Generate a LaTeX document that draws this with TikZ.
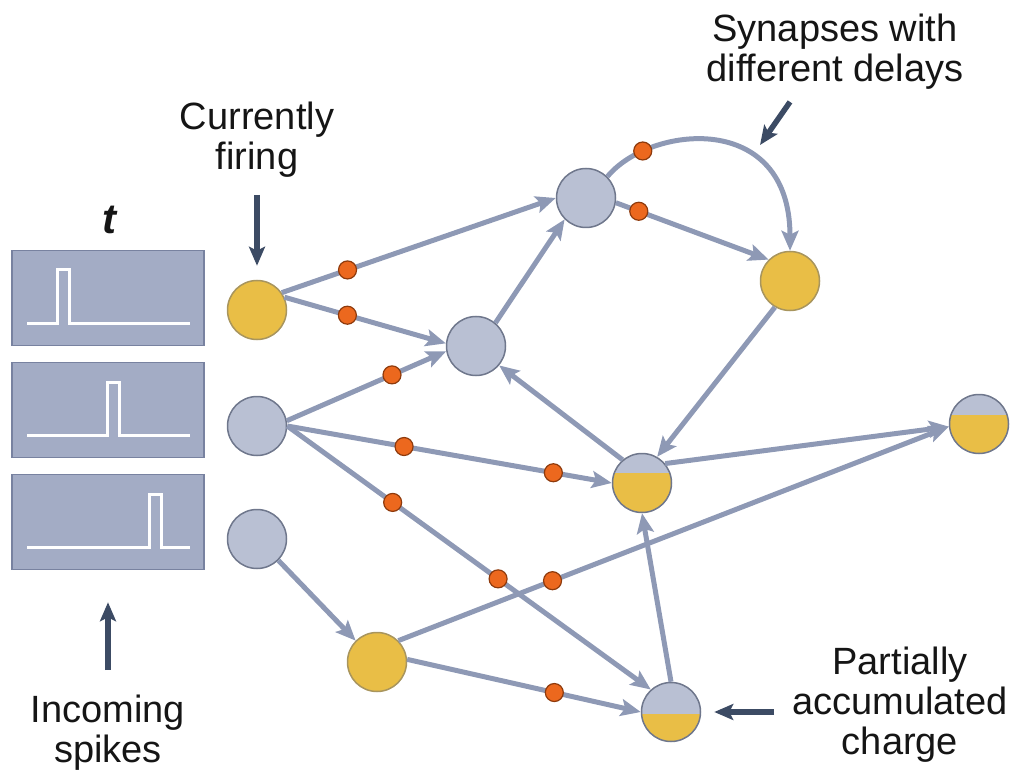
\documentclass[tikz,border=0pt]{standalone}
\usepackage{fontspec}
\setmainfont{Liberation Sans}
\usetikzlibrary{arrows.meta,positioning}
\definecolor{wire}{HTML}{8E99B5}
\definecolor{cell}{HTML}{B9C0D3}
\definecolor{cellrim}{HTML}{6F778C}
\definecolor{fire}{HTML}{E9BE46}
\definecolor{firerim}{HTML}{A8955E}
\definecolor{syncol}{HTML}{EC681E}
\definecolor{synrim}{HTML}{8E3A0C}
\definecolor{pointcol}{HTML}{3C4B64}
\definecolor{tracecol}{HTML}{A3ACC5}
\definecolor{tracerim}{HTML}{7882A0}
\definecolor{ink}{HTML}{151515}

\begin{document}
\begin{tikzpicture}[x=1pt,y=-1pt,
  neuron/.style={circle,draw=cellrim,fill=cell,line width=1.5pt,minimum size=59pt,inner sep=0pt},
  lit/.style={neuron,draw=firerim,fill=fire},
  charged/.style={neuron,path picture={\fill[fire] ([yshift=#1]path picture bounding box.west) rectangle (path picture bounding box.south east);}},
  syn/.style={circle,draw=synrim,fill=syncol,line width=1.2pt,minimum size=18pt,inner sep=0pt},
  link/.style={draw=wire,line width=5pt,-{Stealth[length=20pt,width=17pt,inset=4pt]}},
  pointer/.style={draw=pointcol,line width=5.5pt,-{Stealth[length=19pt,width=16pt,inset=4pt]}},
  trace/.style={rectangle,draw=tracerim,fill=tracecol,line width=1.5pt,minimum width=192pt,minimum height=95pt,inner sep=0pt},
  pulse/.style={draw=white,line width=3pt},
  caption/.style={font=\fontsize{38}{40}\selectfont,align=center,text=ink,inner sep=0pt}]
\useasboundingbox (0,0) rectangle (1019,775);

\foreach \k/\y/\s in {1/298/-51,2/410/-1,3/522/41}{
  \node[trace] (box\k) at (108,\y) {};
  \draw[pulse] ([shift={(-81,25)}]box\k.center) -- ++(\s+81,0) -- ++(0,-53) -- ++(12,0) -- ++(0,53) -- ([shift={(82,25)}]box\k.center);
}

\node[lit] (in1) at (257,310) {};
\node[neuron] (in2) at (257,426) {};
\node[neuron] (in3) at (257,539) {};
\node[neuron] (h1) at (476,346) {};
\node[neuron] (h2) at (586,198) {};
\node[lit] (h3) at (790,281) {};
\node[charged=10pt] (h4) at (642,483) {};
\node[charged=9pt] (out) at (979,424) {};
\node[lit] (h5) at (377,662) {};
\node[charged=-2pt] (h6) at (671,712) {};

\draw[link] (in1.35) -- node[syn,pos=.24] (d1) {} (h2.west);
\draw[link] (in1.25) -- node[syn,pos=.39] (d2) {} (h1.175);
\draw[link] (in2.10) -- node[syn,pos=.66] (d3) {} (h1.190);
\draw[link] (in2.east) -- node[syn,pos=.36] (d4) {} node[syn,pos=.82] (d5) {} (h4.west);
\draw[link] (in2.east) -- node[syn,pos=.29] (d6) {} node[syn,pos=.58] (d7) {} (h6.132);
\draw[link] (in3.-45) -- (h5.135);
\draw[link] (h1.50) -- (h2.225);
\draw[link] (h2.-9) -- node[syn,pos=.15] (d8) {} (h3.135);
\draw[link] (h2.45) .. controls (650,125) and (790,110) .. (h3.north) node[syn,pos=.2] (d9) {};
\draw[link] (h3.240) -- (h4.60);
\draw[link] (h4.130) -- (h1.-40);
\draw[link] (h4.40) -- (out.185);
\draw[link] (h5.45) -- node[syn,pos=.28] (d10) {} (out.185);
\draw[link] (h5.5) -- node[syn,pos=.63] (d11) {} (h6.west);
\draw[link] (h6.north) -- (h4.south);

\node[caption,font=\fontsize{42}{42}\selectfont] (time) at (110,220) {\textbf{\textit{t}}};
\node[caption] (now) at (257,140) {Currently\\firing};
\node[caption] (delays) at (835,52) {Synapses with\\different delays};
\node[caption] (incoming) at (108,733) {Incoming\\spikes};
\node[caption] (partial) at (900,705) {Partially\\accumulated\\charge};
\coordinate (delaytip) at (760,145);

\draw[pointer] ([yshift=-17pt]now.south) -- ([yshift=14pt]in1.north);
\draw[pointer] ([shift={(-45,12)}]delays.south) -- (delaytip);
\draw[pointer] ([yshift=25pt]incoming.north) -- ([yshift=-32pt]box3.south);
\draw[pointer,shorten <=18pt] (partial.west |- h6.east) -- ([xshift=13pt]h6.east);
\end{tikzpicture}
\end{document}
